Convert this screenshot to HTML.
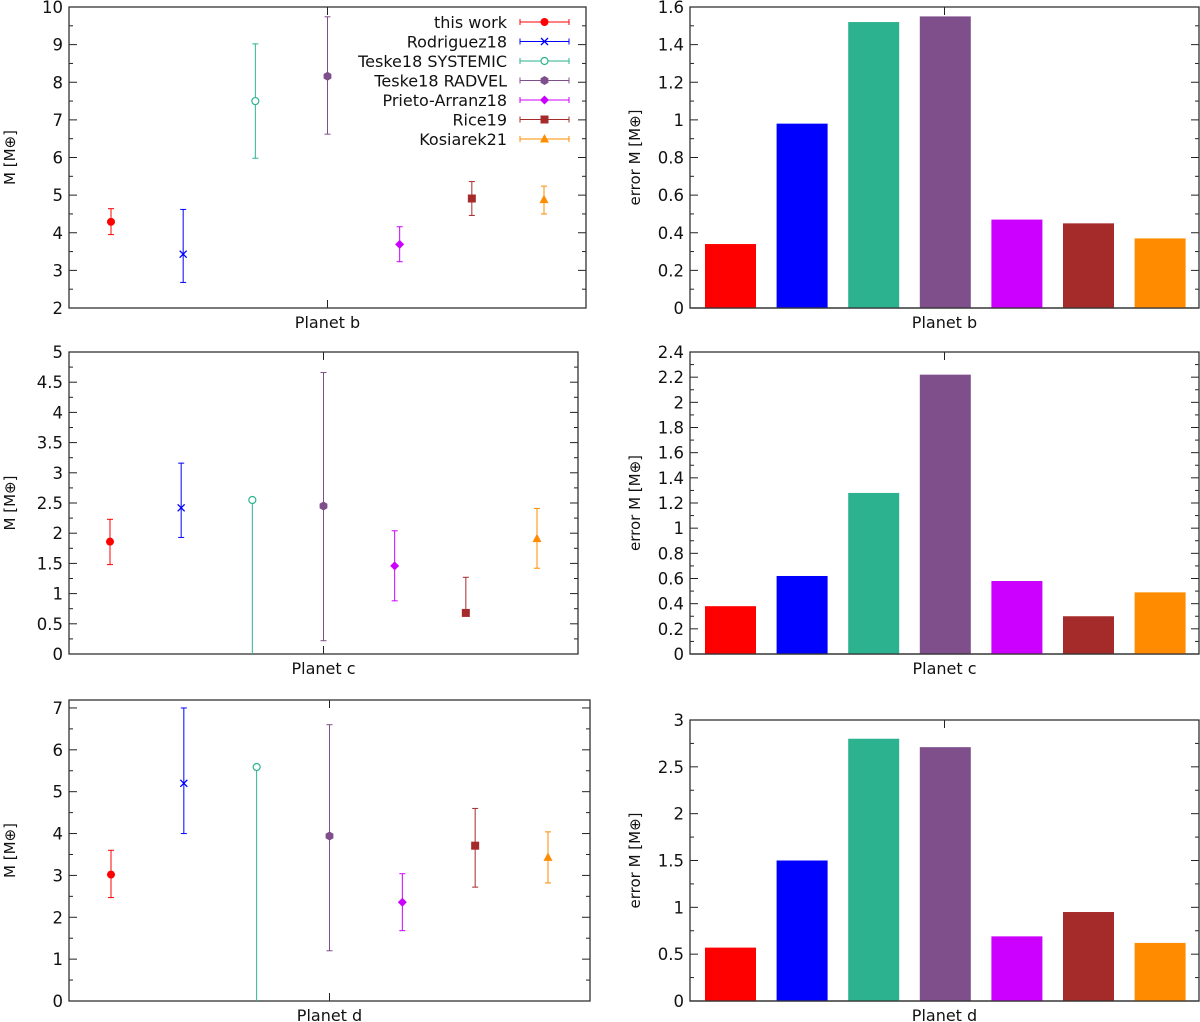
<!DOCTYPE html>
<html><head><meta charset="utf-8">
<style>
body{margin:0;background:#fff;}
svg{display:block;font-family:"DejaVu Sans","Liberation Sans",sans-serif;}
</style></head>
<body>
<svg id="c" width="1200" height="1022"></svg>
<script>
const series = ["this work","Rodriguez18","Teske18 SYSTEMIC","Teske18 RADVEL","Prieto-Arranz18","Rice19","Kosiarek21"];
const colors = ["#ff0000","#0000ff","#2db28f","#7f4f8b","#cc00ff","#a52a2a","#ff8c00"];
const markers = ["circle","cross","opencircle","hex","diamond","square","triangle"];
const massB = [4.29,3.43,7.50,8.16,3.69,4.91,4.88];
const lowB  = [3.95,2.68,5.98,6.62,3.23,4.46,4.50];
const highB = [4.64,4.62,9.02,9.74,4.16,5.36,5.24];
const massC = [1.86,2.42,2.55,2.45,1.46,0.68,1.91];
const lowC  = [1.48,1.93,0.00,0.22,0.88,0.68,1.42];
const highC = [2.23,3.16,2.55,4.66,2.04,1.27,2.41];
const massD = [3.02,5.20,5.59,3.94,2.36,3.71,3.43];
const lowD  = [2.47,4.00,0.00,1.20,1.68,2.72,2.82];
const highD = [3.60,7.00,5.59,6.60,3.04,4.60,4.04];
const errB = [0.34,0.98,1.52,1.55,0.47,0.45,0.37];
const errC = [0.38,0.62,1.28,2.22,0.58,0.30,0.49];
const errD = [0.57,1.50,2.80,2.71,0.69,0.95,0.62];
const ticksB = ["2","3","4","5","6","7","8","9","10"];
const ticksC = ["0","0.5","1","1.5","2","2.5","3","3.5","4","4.5","5"];
const ticksD = ["0","1","2","3","4","5","6","7"];
const ticksEB = ["0","0.2","0.4","0.6","0.8","1","1.2","1.4","1.6"];
const ticksEC = ["0","0.2","0.4","0.6","0.8","1","1.2","1.4","1.6","1.8","2","2.2","2.4"];
const ticksED = ["0","0.5","1","1.5","2","2.5","3"];

const svg=document.getElementById('c');
const NS='http://www.w3.org/2000/svg';
function mk(tag,attrs,parent){const e=document.createElementNS(NS,tag);for(const k in attrs)e.setAttribute(k,attrs[k]);(parent||svg).appendChild(e);return e;}

function frame(g,L,R,T,B,ticks,ymin,ymax,xlabel,ylabel,ylx,minor){
  const y=v=>B-(v-ymin)/(ymax-ymin)*(B-T);
  ticks.forEach((t,i)=>{
    const v=parseFloat(t), yy=y(v);
    const tk=mk('line',{x1:L,x2:L+8,y1:yy,y2:yy,stroke:'#222','stroke-width':1},g);
    
    
    mk('line',{x1:R-8,x2:R,y1:yy,y2:yy,stroke:'#222','stroke-width':1},g);
    const tx=mk('text',{x:L-6,y:yy+6,'text-anchor':'end','font-size':16.5,fill:'#111'},g);
    tx.textContent=t;
    
    
    if(i<ticks.length-1){
      const nv=parseFloat(ticks[i+1]);
      for(let k=1;k<minor;k++){const my=y(v+(nv-v)*k/minor);
        mk('line',{x1:L,x2:L+4,y1:my,y2:my,stroke:'#222'},g);
        mk('line',{x1:R-4,x2:R,y1:my,y2:my,stroke:'#222'},g);}
    }
  });
  const cx=(L+R)/2;
  mk('line',{x1:cx,x2:cx,y1:B,y2:B-8,stroke:'#222'},g);
  mk('line',{x1:cx,x2:cx,y1:T,y2:T+8,stroke:'#222'},g);
  const r=mk('rect',{x:L,y:T,width:R-L,height:B-T,fill:'none',stroke:'#333','stroke-width':1.3},g);
  
  
  const xl=mk('text',{x:cx,y:B+20,'text-anchor':'middle','font-size':16,fill:'#111'},g);
  xl.textContent=xlabel;
  
  
  const ym=(T+B)/2;
  const yl=mk('text',{x:ylx,y:ym,'text-anchor':'middle','font-size':15,fill:'#111',transform:`rotate(-90 ${ylx} ${ym})`},g);
  yl.textContent=ylabel;
  
  
  return y;
}

function marker(g,type,x,y,c){
  let e;
  if(type==='circle')e=mk('circle',{cx:x,cy:y,r:4,fill:c},g);
  else if(type==='opencircle')e=mk('circle',{cx:x,cy:y,r:3.5,fill:'#fff',stroke:c,'stroke-width':1.2},g);
  else if(type==='cross'){e=mk('path',{d:`M${x-3.5} ${y-3.5}L${x+3.5} ${y+3.5}M${x-3.5} ${y+3.5}L${x+3.5} ${y-3.5}`,stroke:c,'stroke-width':1.3},g);}
  else if(type==='hex'){const p=[];for(let k=0;k<6;k++){const a=Math.PI/6+k*Math.PI/3;p.push((x+4.5*Math.cos(a))+','+(y+4.5*Math.sin(a)));}e=mk('polygon',{points:p.join(' '),fill:c},g);}
  else if(type==='diamond')e=mk('polygon',{points:`${x},${y-4.5} ${x+4.5},${y} ${x},${y+4.5} ${x-4.5},${y}`,fill:c},g);
  else if(type==='square')e=mk('rect',{x:x-4,y:y-4,width:8,height:8,fill:c},g);
  else e=mk('polygon',{points:`${x},${y-5} ${x+4.5},${y+3.5} ${x-4.5},${y+3.5}`,fill:c},g);
  
  
}

function massPlot(name,L,R,T,B,ticks,ymin,ymax,xl,mass,lo,hi,pad){
  const g=mk('g',{});
  
  
  const y=frame(g,L,R,T,B,ticks,ymin,ymax,xl,'M [M⊕]',15,2);
  const step=(R-L-2*pad)/(series.length-1);
  mass.forEach((m,i)=>{
    const x=L+pad+i*step, c=colors[i];
    const eb=mk('line',{x1:x,x2:x,y1:y(lo[i]),y2:y(hi[i]),stroke:c,'stroke-width':1},g);
    
    
    [lo[i],hi[i]].forEach(v=>{ if(v>ymin) mk('line',{x1:x-3,x2:x+3,y1:y(v),y2:y(v),stroke:c},g);});
    marker(g,markers[i],x,y(m),c);
  });
}

function barPlot(name,L,R,T,B,ticks,ymax,xl,err){
  const g=mk('g',{});
  
  
  const y=frame(g,L,R,T,B,ticks,0,ymax,xl,'error M [M⊕]',640,2);
  const first=730.5, step=71.6, w=51;
  err.forEach((v,i)=>{
    const cx=first+i*step;
    const b=mk('rect',{x:cx-w/2,y:y(v),width:w,height:B-y(v),fill:colors[i]},g);
    
    
  });
  mk('line',{x1:L,x2:R,y1:B,y2:B,stroke:'#333','stroke-width':1.3},g);
}

massPlot('mass-planet-b',69,586,7,308,ticksB,2,10,'Planet b',massB,lowB,highB,42);
massPlot('mass-planet-c',69,578,352,654,ticksC,0,5,'Planet c',massC,lowC,highC,41);
massPlot('mass-planet-d',69,590,700,1001,ticksD,0,7.19,'Planet d',massD,lowD,highD,42);
barPlot('error-planet-b',690,1199,7,308,ticksEB,1.6,'Planet b',errB);
barPlot('error-planet-c',690,1199,352,654,ticksEC,2.4,'Planet c',errC);
barPlot('error-planet-d',690,1199,720,1001,ticksED,3,'Planet d',errD);

// legend
const lg=mk('g',{});


series.forEach((s,i)=>{
  const yy=22+i*19.5;
  const t=mk('text',{x:507,y:yy+6,'text-anchor':'end','font-size':16,fill:'#111'},lg);
  t.textContent=s;
  
  
  mk('line',{x1:520,x2:569,y1:yy,y2:yy,stroke:colors[i]},lg);
  mk('line',{x1:520,x2:520,y1:yy-3,y2:yy+3,stroke:colors[i]},lg);
  mk('line',{x1:569,x2:569,y1:yy-3,y2:yy+3,stroke:colors[i]},lg);
  marker(lg,markers[i],544.5,yy,colors[i]);
});
</script>
</body></html>
